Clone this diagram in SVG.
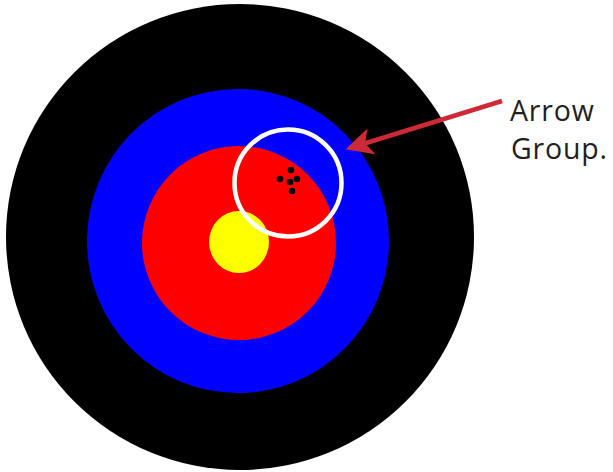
<svg xmlns="http://www.w3.org/2000/svg" width="613" height="472" viewBox="0 0 613 472">
<defs>
<style>
.label{font-family:"Open Sans","Noto Sans","Liberation Sans",sans-serif;font-size:28.5px;fill:#231f20;letter-spacing:0.8px;}
.hole{fill:#000;}
</style>
<marker id="ah" markerWidth="6" markerHeight="6" refX="5" refY="3" orient="auto" markerUnits="strokeWidth">
<path d="M0,0 L6,3 L0,6 L1.5,3 Z" fill="#cc2a36"/>
</marker>
</defs>
<rect width="613" height="472" fill="#fff"/>
<g id="target">
<ellipse cx="240" cy="237" rx="234" ry="233" fill="#000"/>
<ellipse cx="238" cy="241" rx="151" ry="152" fill="#0000ff"/>
<ellipse cx="239" cy="243" rx="97" ry="97" fill="#ff0000"/>
<ellipse cx="239" cy="242" rx="30" ry="31" fill="#ffff00"/>
</g>
<g id="holes">
<circle class="hole" cx="291" cy="170" r="3.3"/>
<circle class="hole" cx="280" cy="179" r="3.3"/>
<circle class="hole" cx="297" cy="179" r="3.3"/>
<circle class="hole" cx="290" cy="182" r="3.3"/>
<circle class="hole" cx="292" cy="191" r="3.3"/>
</g>
<g id="group-circle">
<circle cx="288" cy="183" r="53.5" fill="none" stroke="#fff" stroke-width="4.5"/>
</g>
<g id="connectors">
<line x1="502" y1="101" x2="350" y2="148" stroke="#cc2a36" stroke-width="4.5" marker-end="url(#ah)"/>
</g>
<g id="label">
<text class="label" x="510" y="121">Arrow</text>
<text class="label" x="511" y="159">Group.</text>
</g>
</svg>
